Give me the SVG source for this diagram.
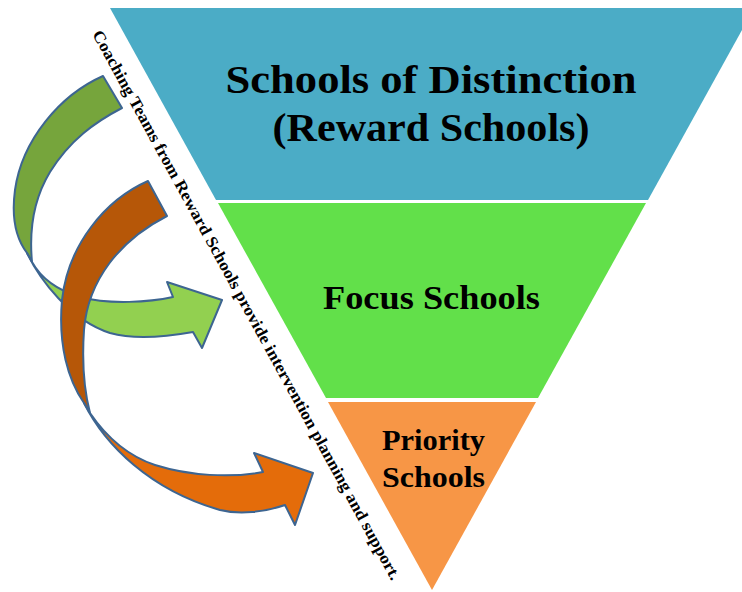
<svg xmlns="http://www.w3.org/2000/svg" width="742" height="592" viewBox="0 0 742 592">
<style>
.t{font-family:"Liberation Serif","Times New Roman",serif;font-weight:bold;fill:#000;text-anchor:middle}
.arr{stroke:#3D6591;stroke-width:2;stroke-linejoin:round}
</style>
<rect width="742" height="592" fill="#fff"/>
<g id="tier-reward">
<polygon points="110,8 742,8 742,30 648,200 216,200" fill="#4BACC6"/>
<text class="t" x="431" y="93" font-size="39" textLength="411" lengthAdjust="spacingAndGlyphs">Schools of Distinction</text>
<text class="t" x="431" y="141" font-size="39" textLength="317" lengthAdjust="spacingAndGlyphs">(Reward Schools)</text>
</g>
<g id="tier-focus">
<polygon points="218,203 646,203 538,398 326,398" fill="#62E04A"/>
<text class="t" x="431.5" y="309" font-size="33" textLength="217" lengthAdjust="spacingAndGlyphs">Focus Schools</text>
</g>
<g id="tier-priority">
<polygon points="328,402 536,402 432,590" fill="#F79646"/>
<text class="t" x="433.5" y="450" font-size="30" textLength="103" lengthAdjust="spacingAndGlyphs">Priority</text>
<text class="t" x="433.5" y="487" font-size="30" textLength="103" lengthAdjust="spacingAndGlyphs">Schools</text>
</g>
<g id="label-coaching">
<text transform="translate(92,34) rotate(61.3)" x="0" y="0" font-family="Liberation Serif, Times New Roman, serif" font-weight="bold" font-size="16.5" fill="#000" textLength="624" lengthAdjust="spacingAndGlyphs">Coaching Teams from Reward Schools provide intervention planning and support.</text>
</g>
<g id="connectors">
<g id="arrow-green">
<path class="arr" fill="#76A53C" d="M103,76 C60,95 22,140 15,190 C11,220 17,240 27,253 L32,262 C29,230 33,200 50,172 C70,140 95,122 122,108 Z"/>
<path class="arr" fill="#92D050" d="M27,253 C40,280 70,320 110,333 C135,340 165,337 193,332 L202,348 L222,300 L167,282 L173,297 C150,302 110,305 80,297 C60,291 42,280 32,262 Z"/>
</g>
<g id="arrow-orange">
<path class="arr" fill="#B65708" d="M148,181 C105,200 68,245 62,300 C58,345 68,380 84,403 L90,413 C84,390 82,360 84,330 C88,280 120,240 167,216 Z"/>
<path class="arr" fill="#E46C0A" d="M84,403 C105,445 150,490 220,510 C240,515 265,512 285,505 L295,525 L313,473 L254,453 L263,472 C230,478 190,476 155,465 C125,455 105,435 90,413 Z"/>
</g>
</g>
</svg>
